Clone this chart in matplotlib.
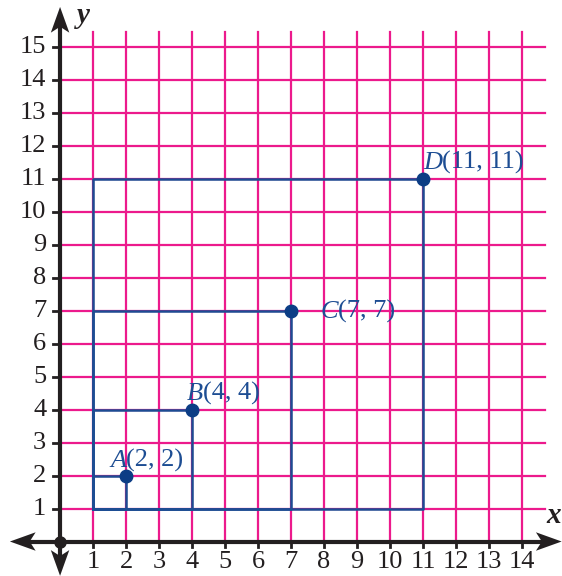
import matplotlib
matplotlib.use("Agg")
import matplotlib.pyplot as plt
from matplotlib.patches import Polygon

# Data
point_names = ["A", "B", "C", "D"]
point_x = [2, 4, 7, 11]
point_y = [2, 4, 7, 11]
x_ticks = list(range(1, 15))
y_ticks = list(range(1, 16))

GRID = "#ec1a8c"
BLUE = "#1d4d93"
DOT = "#0c3d85"
AXIS = "#231f20"
plt.rcParams["font.family"] = ["Liberation Serif", "DejaVu Serif"]

fig = plt.figure(figsize=(5.62, 5.76), dpi=100)
ax = fig.add_axes([0, 0, 1, 1])
ax.set_xlim(-1.82, 15.21)
ax.set_ylim(-1.045, 16.41)
ax.axis("off")

# grid
for xv in x_ticks:
    ax.plot([xv, xv], [0, 15.45], color=GRID, lw=1.6, zorder=1)
for yv in y_ticks:
    ax.plot([0, 14.7], [yv, yv], color=GRID, lw=1.6, zorder=1)

# axes
ax.plot([-1.2, 14.9], [0, 0], color=AXIS, lw=3, zorder=3, solid_capstyle="butt")
ax.plot([0, 0], [-0.75, 15.9], color=AXIS, lw=3, zorder=3, solid_capstyle="butt")

def arrow(tip, direction):
    tx, ty = tip
    dx, dy = direction
    L, W, N = 0.78, 0.28, 0.6
    px, py = -dy, dx
    pts = [(tx, ty),
           (tx - dx * L + px * W, ty - dy * L + py * W),
           (tx - dx * N, ty - dy * N),
           (tx - dx * L - px * W, ty - dy * L - py * W)]
    ax.add_patch(Polygon(pts, closed=True, color=AXIS, zorder=4, lw=0))

arrow((15.2, 0), (1, 0))
arrow((-1.52, 0), (-1, 0))
arrow((0, 16.2), (0, 1))
arrow((0, -1.04), (0, -1))
ax.plot([0], [0], "o", color=AXIS, ms=8, zorder=5)

# ticks and labels
for xv in x_ticks:
    ax.plot([xv, xv], [-0.18, 0], color=AXIS, lw=2, zorder=3)
    ax.text(xv, -0.3, str(xv), ha="center", va="top", fontsize=19, color=AXIS)
for yv in y_ticks:
    ax.plot([-0.2, 0], [yv, yv], color=AXIS, lw=2, zorder=3)
    ax.text(-0.42, yv, str(yv), ha="right", va="center", fontsize=19, color=AXIS)

ax.text(14.95, 0.8, "x", ha="center", va="center", fontsize=21,
        style="italic", weight="bold", color=AXIS)
ax.text(0.72, 15.95, "y", ha="center", va="center", fontsize=21,
        style="italic", weight="bold", color=AXIS)

# squares from (1,1) to each point
for px, py in zip(point_x, point_y):
    ax.plot([1, px, px, 1, 1], [1, 1, py, py, 1], color=BLUE, lw=1.8, zorder=2)
ax.plot(point_x, point_y, "o", color=DOT, ms=9, zorder=6)

# labels
offsets = {"A": (-0.48, 0.25, "baseline"),
           "B": (-0.15, 0.28, "baseline"),
           "C": (0.88, -0.05, "center"),
           "D": (0.0, 0.28, "baseline")}
for name, px, py in zip(point_names, point_x, point_y):
    dx, dy, va = offsets[name]
    t = ax.text(px + dx, py + dy, name, ha="left", va=va, fontsize=19,
                color=BLUE, style="italic", zorder=7)
    ax.annotate(f"({px}, {py})", xy=(1, 0), xycoords=t, ha="left", va="bottom",
                fontsize=19, color=BLUE, zorder=7)

fig.savefig("out.png", dpi=100)
